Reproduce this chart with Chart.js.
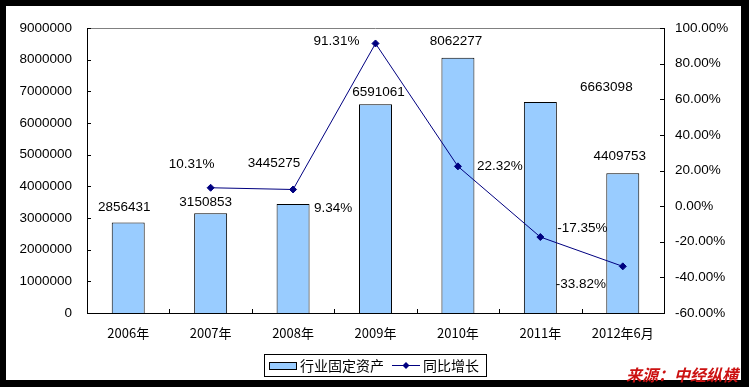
<!DOCTYPE html>
<html>
<head>
<meta charset="utf-8">
<script src="https://cdn.jsdelivr.net/npm/chart.js@4/dist/chart.umd.min.js"></script>
<style>
html, body { margin: 0; padding: 0; background: #000; }
canvas { display: block; }
</style>
</head>
<body>
<canvas id="chart" width="749" height="387"></canvas>
<script>
// data
const categories = ['2006年', '2007年', '2008年', '2009年', '2010年', '2011年', '2012年6月'];
const assetValues = [2856431, 3150853, 3445275, 6591061, 8062277, 6663098, 4409753];
const growthRates = [null, 10.31, 9.34, 91.31, 22.32, -17.35, -33.82];
const leftTicks = [0, 1000000, 2000000, 3000000, 4000000, 5000000, 6000000, 7000000, 8000000, 9000000];
const rightTicks = [-60, -40, -20, 0, 20, 40, 60, 80, 100];
const seriesNames = ['行业固定资产', '同比增长'];
const sourceText = '来源：中经纵横';

// where each value label sits, relative to its bar top / point (px)
const barLabelShift = [[-4, -15], [-5, -11], [-19, -41], [3, -12], [-2, -16], [66, -15], [-3, -17]];
const lineLabelShift = [null, [-19, -23], [40, 19], [-39, -2], [42, 0], [42, -9], [-42, 18]];

const numFont = '13.5px "Liberation Sans", Arial, sans-serif';
const cjkFont = '"Noto Sans CJK SC", sans-serif';
const barFill = '#99CCFF';
const lineColor = '#000080';

// black frame + white sheet
const framePlugin = {
  id: 'frame',
  beforeDraw(chart) {
    const ctx = chart.ctx;
    ctx.save();
    ctx.fillStyle = '#000';
    ctx.fillRect(0, 0, chart.width, chart.height);
    ctx.fillStyle = '#fff';
    ctx.fillRect(6, 6, 735, 374);
    ctx.restore();
  }
};

// value labels
const labelPlugin = {
  id: 'labels',
  afterDatasetsDraw(chart) {
    const ctx = chart.ctx;
    ctx.save();
    ctx.font = numFont;
    ctx.fillStyle = '#000';
    ctx.textAlign = 'center';
    ctx.textBaseline = 'middle';
    chart.getDatasetMeta(0).data.forEach((bar, i) => {
      const s = barLabelShift[i];
      ctx.fillText(String(assetValues[i]), bar.x + s[0], bar.y + s[1]);
    });
    chart.getDatasetMeta(1).data.forEach((pt, i) => {
      if (growthRates[i] === null) return;
      const s = lineLabelShift[i];
      ctx.fillText(growthRates[i].toFixed(2) + '%', pt.x + s[0], pt.y + s[1]);
    });
    ctx.restore();
  }
};

// inward tick marks, top border, legend box, source note
const decorPlugin = {
  id: 'decor',
  afterDraw(chart) {
    const ctx = chart.ctx;
    const a = chart.chartArea;
    const { x, y, y1 } = chart.scales;
    ctx.save();
    ctx.lineWidth = 1;

    ctx.strokeStyle = '#808080';
    ctx.beginPath();
    ctx.moveTo(a.left, Math.round(a.top) + 0.5);
    ctx.lineTo(a.right, Math.round(a.top) + 0.5);
    ctx.stroke();

    ctx.strokeStyle = '#000';
    ctx.beginPath();
    y.ticks.forEach(t => {
      const p = Math.round(y.getPixelForValue(t.value)) + 0.5;
      ctx.moveTo(a.left, p); ctx.lineTo(a.left + 4, p);
    });
    y1.ticks.forEach(t => {
      const p = Math.round(y1.getPixelForValue(t.value)) + 0.5;
      ctx.moveTo(a.right, p); ctx.lineTo(a.right - 4, p);
    });
    for (let i = 0; i < categories.length - 1; i++) {
      const p = Math.round(x.getPixelForValue(i + 0.5)) + 0.5;
      ctx.moveTo(p, a.bottom); ctx.lineTo(p, a.bottom - 4);
    }
    ctx.stroke();

    // legend
    ctx.strokeRect(264.5, 354.5, 222, 22);
    ctx.fillStyle = barFill;
    ctx.fillRect(269, 362, 28, 8);
    ctx.strokeRect(269.5, 362.5, 27, 7);
    ctx.fillStyle = '#000';
    ctx.font = '14px ' + cjkFont;
    ctx.textAlign = 'left';
    ctx.textBaseline = 'middle';
    ctx.fillText(seriesNames[0], 300, 366);
    ctx.strokeStyle = lineColor;
    ctx.beginPath();
    ctx.moveTo(392, 365.5); ctx.lineTo(420, 365.5);
    ctx.stroke();
    ctx.fillStyle = lineColor;
    ctx.beginPath();
    ctx.moveTo(406, 362); ctx.lineTo(409.5, 365.5); ctx.lineTo(406, 369); ctx.lineTo(402.5, 365.5);
    ctx.closePath();
    ctx.fill();
    ctx.fillStyle = '#000';
    ctx.fillText(seriesNames[1], 423, 366);

    // source
    ctx.fillStyle = '#CC1111';
    ctx.font = 'italic bold 16px ' + cjkFont;
    ctx.fillText(sourceText, 626, 375);
    ctx.restore();
  }
};

new Chart(document.getElementById('chart'), {
  data: {
    labels: categories,
    datasets: [
      {
        type: 'bar',
        label: seriesNames[0],
        data: assetValues,
        yAxisID: 'y',
        backgroundColor: barFill,
        borderColor: '#000',
        borderWidth: 1,
        barPercentage: 0.4,
        categoryPercentage: 1,
        order: 1
      },
      {
        type: 'line',
        label: seriesNames[1],
        data: growthRates,
        yAxisID: 'y1',
        borderColor: lineColor,
        borderWidth: 1,
        pointStyle: 'rectRot',
        pointRadius: 3.5,
        pointBackgroundColor: lineColor,
        pointBorderColor: lineColor,
        tension: 0,
        spanGaps: false,
        order: 0
      }
    ]
  },
  options: {
    responsive: false,
    animation: false,
    devicePixelRatio: 1,
    layout: { padding: { top: 28, left: 0, right: 0, bottom: 0 } },
    plugins: {
      legend: { display: false },
      tooltip: { enabled: false },
      title: { display: false }
    },
    scales: {
      x: {
        grid: { display: false, drawTicks: false },
        border: { display: true, color: '#000', width: 1 },
        ticks: { color: '#000', font: { family: cjkFont, size: 13 }, padding: 12, maxRotation: 0, autoSkip: false },
        afterFit: s => { s.height = 74; }
      },
      y: {
        position: 'left',
        min: 0,
        max: 9000000,
        afterBuildTicks: s => { s.ticks = leftTicks.map(v => ({ value: v })); },
        grid: { display: false, drawTicks: false },
        border: { display: true, color: '#000', width: 1 },
        ticks: {
          color: '#000',
          font: { family: '"Liberation Sans", Arial, sans-serif', size: 13.5 },
          padding: 15,
          callback: v => String(v)
        },
        afterFit: s => { s.width = 87; }
      },
      y1: {
        position: 'right',
        min: -60,
        max: 100,
        afterBuildTicks: s => { s.ticks = rightTicks.map(v => ({ value: v })); },
        grid: { display: false, drawTicks: false },
        border: { display: true, color: '#000', width: 1 },
        ticks: {
          color: '#000',
          font: { family: '"Liberation Sans", Arial, sans-serif', size: 13.5 },
          padding: 11,
          callback: v => v.toFixed(2) + '%'
        },
        afterFit: s => { s.width = 85; }
      }
    }
  },
  plugins: [framePlugin, labelPlugin, decorPlugin]
});
</script>
</body>
</html>
